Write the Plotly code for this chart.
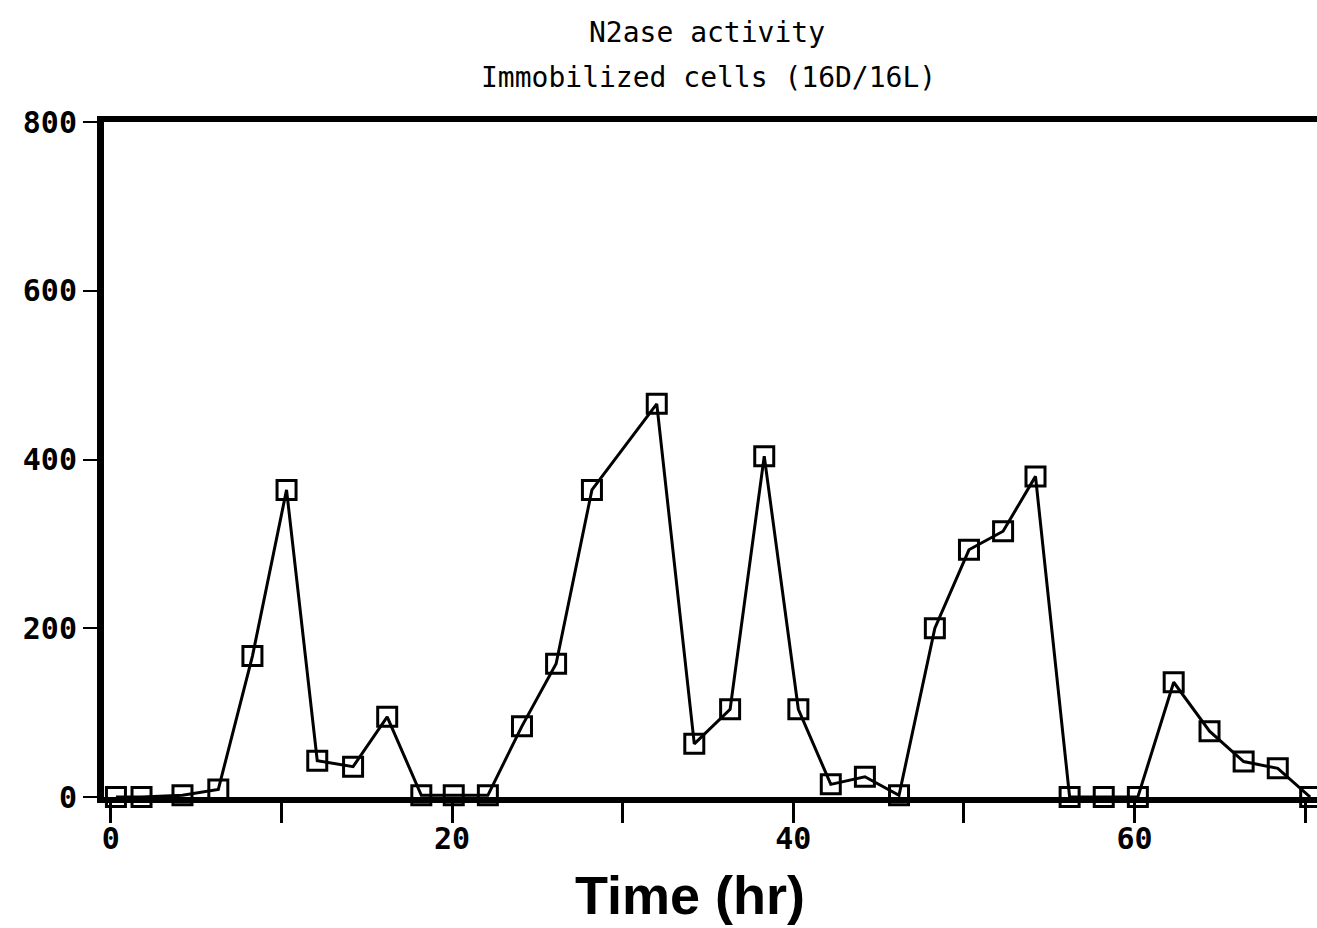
import plotly.graph_objects as go

time_hr = [0.3, 1.8, 4.2, 6.3, 8.3, 10.3, 12.1, 14.2, 16.2, 18.2, 20.1, 22.1, 24.1, 26.1,
           28.2, 32.0, 34.2, 36.3, 38.3, 40.3, 42.2, 44.2, 46.2, 48.3, 50.3, 52.3, 54.2,
           56.2, 58.2, 60.2, 62.3, 64.4, 66.4, 68.4, 70.3]
activity = [0, 0, 2, 9, 167, 364, 43, 36, 95, 2, 2, 2, 84, 158,
            364, 466, 63, 104, 404, 104, 15, 24, 2, 200, 293, 315, 380,
            0, 0, 0, 136, 78, 42, 34, 0]

x_tickvals = [0, 10, 20, 30, 40, 50, 60, 70]
x_ticktext = ["0", "", "20", "", "40", "", "60", ""]
y_tickvals = [0, 200, 400, 600, 800]
y_ticktext = ["0", "200", "400", "600", "800"]

title_lines = ["N2ase activity", "Immobilized cells (16D/16L)"]
x_title = "Time (hr)"

fig = go.Figure()
fig.add_trace(go.Scatter(
    x=time_hr, y=activity, mode="lines+markers",
    line=dict(color="black", width=3),
    marker=dict(symbol="square-open", size=19, color="black",
                line=dict(color="black", width=3)),
    cliponaxis=False, showlegend=False,
))

mono = "DejaVu Sans Mono"
fig.update_layout(
    width=1317, height=928,
    paper_bgcolor="white", plot_bgcolor="white",
    margin=dict(l=104, r=0, t=122, b=131),
    xaxis=dict(range=[-0.4, 70.7], showgrid=False, zeroline=False,
               showline=True, linecolor="black", linewidth=6, mirror=True,
               tickmode="array", tickvals=x_tickvals, ticktext=x_ticktext,
               ticks="outside", ticklen=20, tickwidth=3, tickcolor="black",
               ticklabelstandoff=-10,
               tickfont=dict(family=mono, size=30, color="black", weight="bold")),
    yaxis=dict(range=[0, 800], showgrid=False, zeroline=False,
               showline=True, linecolor="black", linewidth=7,
               tickmode="array", tickvals=y_tickvals, ticktext=y_ticktext,
               ticks="outside", ticklen=14, tickwidth=2, tickcolor="black",
               tickfont=dict(family=mono, size=30, color="black", weight="bold")),
)

fig.add_annotation(text=title_lines[0], xref="paper", yref="paper",
                   x=(707 - 104) / 1213, y=(797 - 33) / 675, showarrow=False,
                   xanchor="center", yanchor="middle",
                   font=dict(family=mono, size=28, color="black"))
fig.add_annotation(text=title_lines[1], xref="paper", yref="paper",
                   x=(708 - 104) / 1213, y=(797 - 77) / 675, showarrow=False,
                   xanchor="center", yanchor="middle",
                   font=dict(family=mono, size=28, color="black"))
fig.add_annotation(text=x_title, xref="paper", yref="paper",
                   x=(690 - 104) / 1213, y=(797 - 895) / 675, showarrow=False,
                   xanchor="center", yanchor="middle",
                   font=dict(family="Liberation Sans", size=54, color="black", weight="bold"))

fig.write_html("out.html")
